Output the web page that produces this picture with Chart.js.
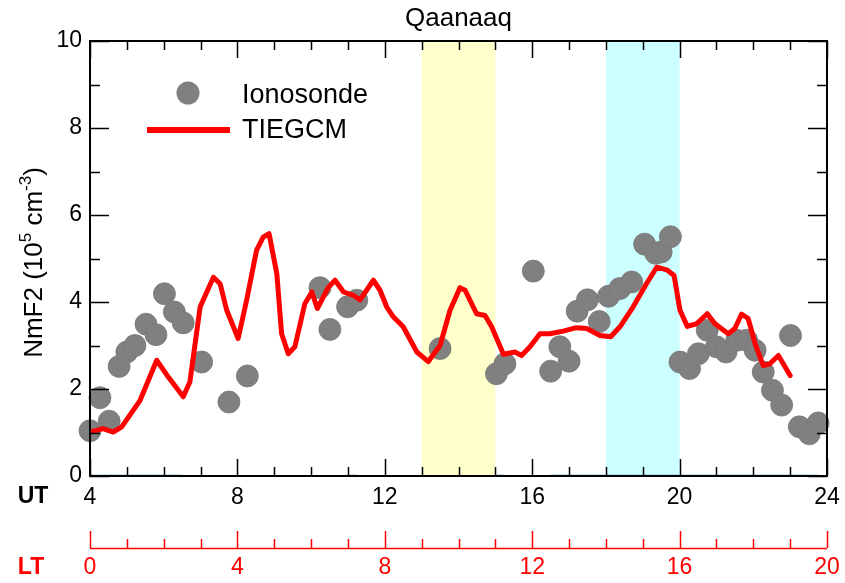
<!DOCTYPE html>
<html><head><meta charset="utf-8">
<script src="https://cdn.jsdelivr.net/npm/chart.js@4.4.1/dist/chart.umd.min.js"></script>
<style>html,body{margin:0;padding:0;background:#fff}#wrap{width:845px;height:583px}</style>
</head><body><div id="wrap"><canvas id="c" width="845" height="583"></canvas></div>
<script>
const chartTitle = 'Qaanaaq';
const utTicks = [4, 8, 12, 16, 20, 24];
const ltTicks = [0, 4, 8, 12, 16, 20];
const yTicks = [0, 2, 4, 6, 8, 10];
const seriesNames = ['Ionosonde', 'TIEGCM'];

const ionoUT = [4.0,4.27,4.52,4.79,5.0,5.22,5.52,5.79,6.02,6.29,6.53,7.03,7.77,8.27,10.24,10.51,10.99,11.24,13.5,15.03,15.26,16.03,16.5,16.75,17.0,17.22,17.5,17.82,18.07,18.38,18.7,19.05,19.35,19.5,19.75,20.01,20.27,20.51,20.75,21.0,21.26,21.55,21.82,22.05,22.27,22.52,22.77,23.01,23.25,23.52,23.76];
const ionoNmF2 = [1.04,1.80,1.26,2.52,2.85,3.0,3.49,3.25,4.19,3.77,3.52,2.62,1.70,2.30,4.33,3.37,3.89,4.04,2.93,2.35,2.58,4.71,2.41,2.97,2.64,3.79,4.05,3.55,4.13,4.31,4.46,5.33,5.12,5.15,5.50,2.62,2.47,2.81,3.35,2.97,2.85,3.12,3.12,2.89,2.39,1.97,1.63,3.23,1.13,0.97,1.22];

const tiegcmUT = [4.0,4.36,4.63,4.86,5.36,5.81,6.12,6.53,6.71,6.99,7.35,7.53,7.71,8.02,8.25,8.52,8.70,8.86,9.07,9.20,9.38,9.56,9.83,10.02,10.17,10.47,10.65,10.88,11.15,11.33,11.69,11.87,12.05,12.23,12.50,12.87,13.18,13.50,13.77,14.04,14.18,14.49,14.72,14.90,15.22,15.53,15.71,15.94,16.21,16.48,16.84,17.20,17.48,17.84,18.13,18.38,18.74,19.10,19.38,19.65,19.85,20.01,20.21,20.46,20.75,20.96,21.32,21.50,21.68,21.86,22.05,22.27,22.45,22.68,23.00];
const tiegcmNmF2 = [1.01,1.09,1.01,1.13,1.74,2.66,2.28,1.82,2.16,3.89,4.57,4.42,3.81,3.16,4.04,5.19,5.49,5.57,4.65,3.27,2.81,2.97,3.96,4.23,3.85,4.34,4.50,4.23,4.15,4.05,4.50,4.27,3.89,3.66,3.43,2.85,2.63,3.00,3.81,4.33,4.27,3.73,3.69,3.43,2.80,2.85,2.77,2.97,3.27,3.27,3.33,3.41,3.39,3.23,3.20,3.43,3.89,4.42,4.80,4.74,4.61,3.81,3.44,3.50,3.73,3.50,3.27,3.39,3.72,3.62,3.04,2.54,2.58,2.77,2.31];

const zeroSegStart = [4.0, 11.0, 15.0, 16.5];
const zeroSegEnd = [6.5, 11.25, 15.25, 23.75];

const bandStart = [13, 18];
const bandEnd = [15, 20];
const bandColors = ['rgb(255,255,204)', 'rgb(204,255,255)'];

const ionoData = ionoUT.map((x, i) => ({x, y: ionoNmF2[i]}));
const tiegcmData = tiegcmUT.map((x, i) => ({x, y: tiegcmNmF2[i]}));
const zeroData = [];
zeroSegStart.forEach((s, i) => {
  zeroData.push({x: s, y: 0}, {x: zeroSegEnd[i], y: 0}, {x: zeroSegEnd[i], y: null});
});

const FONT = "'Liberation Sans', Arial, sans-serif";
const RED = '#ff0000';
const GREY = '#808080';

const deco = {
  id: 'deco',
  beforeDatasetsDraw(chart) {
    const {ctx, chartArea: a, scales: {x}} = chart;
    ctx.save();
    bandStart.forEach((s, i) => {
      const x0 = x.getPixelForValue(s), x1 = x.getPixelForValue(bandEnd[i]);
      ctx.fillStyle = bandColors[i];
      ctx.fillRect(x0, a.top, x1 - x0, a.bottom - a.top);
    });
    ctx.restore();
  },
  afterDatasetsDraw(chart) {
    const {ctx, chartArea: a, scales: {x, y, x2}} = chart;
    ctx.save();
    ctx.strokeStyle = '#000';
    ctx.lineWidth = 2;
    ctx.strokeRect(a.left, a.top, a.right - a.left, a.bottom - a.top);
    ctx.lineWidth = 1.5;
    const MAJ = 17, MIN = 9;
    ctx.beginPath();
    for (let v = x.min; v <= x.max; v++) {
      const px = Math.round(x.getPixelForValue(v)) + 0.5;
      const L = utTicks.includes(v) ? MAJ : MIN;
      ctx.moveTo(px, a.bottom); ctx.lineTo(px, a.bottom - L);
      ctx.moveTo(px, a.top); ctx.lineTo(px, a.top + L);
    }
    for (let v = y.min; v <= y.max; v++) {
      const py = Math.round(y.getPixelForValue(v)) + 0.5;
      const L = yTicks.includes(v) ? MAJ + 2 : MIN + 1;
      ctx.moveTo(a.left, py); ctx.lineTo(a.left + L, py);
      ctx.moveTo(a.right, py); ctx.lineTo(a.right - L, py);
    }
    ctx.stroke();

    const lty = 548;
    ctx.strokeStyle = RED;
    ctx.lineWidth = 1.5;
    ctx.beginPath();
    ctx.moveTo(x2.getPixelForValue(x2.min), lty + 0.5);
    ctx.lineTo(x2.getPixelForValue(x2.max), lty + 0.5);
    for (let v = x2.min; v <= x2.max; v++) {
      const px = Math.round(x2.getPixelForValue(v)) + 0.5;
      const L = ltTicks.includes(v) ? MAJ : MIN;
      ctx.moveTo(px, lty); ctx.lineTo(px, lty - L);
    }
    ctx.stroke();
    ctx.fillStyle = RED;
    ctx.font = '23px ' + FONT;
    ctx.textAlign = 'center';
    ctx.textBaseline = 'middle';
    ltTicks.forEach(v => ctx.fillText(String(v), x2.getPixelForValue(v), 568));
    ctx.font = 'bold 23px ' + FONT;
    ctx.fillText('LT', 31, 568);
    ctx.fillStyle = '#000';
    ctx.fillText('UT', 33, 497);

    ctx.save();
    ctx.translate(42, (a.top + a.bottom) / 2 + 4);
    ctx.rotate(-Math.PI / 2);
    const parts = [['NmF2 (10', false], ['5', true], [' cm', false], ['-3', true], [')', false]];
    const fN = '26px ' + FONT, fS = '17px ' + FONT;
    let w = 0;
    parts.forEach(([t, s]) => { ctx.font = s ? fS : fN; w += ctx.measureText(t).width; });
    let cx = -w / 2;
    ctx.textAlign = 'left';
    ctx.textBaseline = 'alphabetic';
    ctx.fillStyle = '#000';
    parts.forEach(([t, s]) => {
      ctx.font = s ? fS : fN;
      ctx.fillText(t, cx, s ? -11 : 0);
      cx += ctx.measureText(t).width;
    });
    ctx.restore();

    ctx.fillStyle = GREY;
    ctx.beginPath(); ctx.arc(188, 93, 11.5, 0, Math.PI * 2); ctx.fill();
    ctx.strokeStyle = RED; ctx.lineWidth = 6;
    ctx.beginPath(); ctx.moveTo(147, 130); ctx.lineTo(230, 130); ctx.stroke();
    ctx.fillStyle = '#000';
    ctx.font = '27px ' + FONT;
    ctx.textAlign = 'left';
    ctx.textBaseline = 'middle';
    ctx.fillText(seriesNames[0], 242, 96);
    ctx.fillText(seriesNames[1], 242, 131);
    ctx.restore();
  }
};

new Chart(document.getElementById('c'), {
  type: 'scatter',
  data: {
    datasets: [
      {label: 'zero', type: 'line', data: zeroData, borderColor: '#2e86c8', borderWidth: 2.5, pointRadius: 0, spanGaps: false, order: 3},
      {label: seriesNames[0], data: ionoData, pointRadius: 11, pointHoverRadius: 11, backgroundColor: GREY, borderColor: '#787878', borderWidth: 0.8, clip: false, order: 2},
      {label: seriesNames[1], type: 'line', data: tiegcmData, borderColor: RED, borderWidth: 5, pointRadius: 0, tension: 0, borderJoinStyle: 'round', borderCapStyle: 'round', order: 1}
    ]
  },
  options: {
    responsive: false,
    animation: false,
    devicePixelRatio: 1,
    layout: {padding: {left: 0, right: 18, top: 0, bottom: 0}},
    plugins: {
      legend: {display: false},
      tooltip: {enabled: false},
      title: {display: true, text: chartTitle, fullSize: false, color: '#000', font: {family: FONT, size: 26, weight: 'normal', lineHeight: 1.2}, padding: {top: 3, bottom: 6.8}}
    },
    scales: {
      x: {
        type: 'linear', min: 4, max: 24, position: 'bottom',
        grid: {display: false, drawTicks: false}, border: {display: false},
        afterBuildTicks: s => { s.ticks = utTicks.map(v => ({value: v})); },
        ticks: {color: '#000', padding: 8, font: {family: FONT, size: 23, lineHeight: 1.2}, maxRotation: 0},
        afterFit: s => { s.height = 107; s.paddingRight = 0; s.paddingLeft = 0; }
      },
      x2: {
        type: 'linear', min: 0, max: 20, position: 'bottom', display: false,
        afterBuildTicks: s => { s.ticks = ltTicks.map(v => ({value: v})); }
      },
      y: {
        type: 'linear', min: 0, max: 10,
        grid: {display: false, drawTicks: false}, border: {display: false},
        afterBuildTicks: s => { s.ticks = yTicks.map(v => ({value: v})); },
        ticks: {color: '#000', padding: 8, font: {family: FONT, size: 23, lineHeight: 1.2}},
        afterFit: s => { s.width = 90; s.paddingTop = 0; s.paddingBottom = 0; }
      }
    }
  },
  plugins: [deco]
});
</script></body></html>
